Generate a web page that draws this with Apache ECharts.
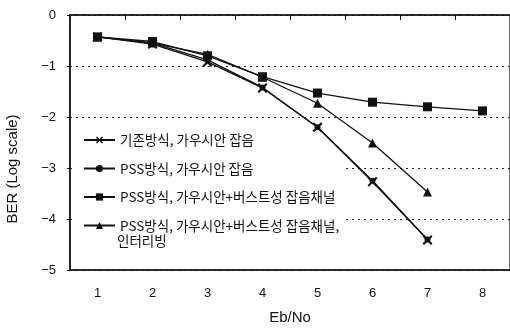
<!DOCTYPE html>
<html><head><meta charset="utf-8">
<script src="https://cdn.jsdelivr.net/npm/echarts@6/dist/echarts.min.js"></script>
<style>html,body{margin:0;padding:0;background:#fff}#c{width:510px;height:330px}</style>
</head><body><div id="c"></div>
<script>
const categories = ['1','2','3','4','5','6','7','8'];
const seriesNames = ['기존방식, 가우시안 잡음','PSS방식, 가우시안 잡음','PSS방식, 가우시안+버스트성 잡음채널','PSS방식, 가우시안+버스트성 잡음채널,'];
const legendExtraLine = '인터리빙';
const conventional = [-0.43,-0.57,-0.92,-1.43,-2.2,-3.27,-4.41,null];
const pssGauss     = [-0.43,-0.55,-0.88,-1.42,-2.2,-3.25,-4.4,null];
const pssBurst     = [-0.43,-0.52,-0.8,-1.21,-1.53,-1.71,-1.8,-1.88];
const pssInterleave= [-0.43,-0.55,-0.77,-1.22,-1.73,-2.51,-3.47,null];
const font = '"Liberation Sans", Arial, sans-serif';
const kfont = '"Noto Sans CJK KR", "Liberation Sans", sans-serif';
const xPath = 'path://M1.5,0L5,3.5L8.5,0L10,1.5L6.5,5L10,8.5L8.5,10L5,6.5L1.5,10L0,8.5L3.5,5L0,1.5Z';
const symbols = [xPath,'circle','rect','triangle'];
const sizes = [10,6,9,9];
const datas = [conventional,pssGauss,pssBurst,pssInterleave];
const chart = echarts.init(document.getElementById('c'));
chart.setOption({
  animation:false,
  backgroundColor:'#fff',
  grid:{left:70,top:15,right:-2,bottom:60,show:true,borderColor:'#111',borderWidth:1.2,backgroundColor:'transparent'},
  legend:{
    orient:'vertical',left:76,top:125,z:1,
    padding:[8,4,22,7],itemGap:14.5,itemWidth:31,itemHeight:9,
    backgroundColor:'#fff',
    textStyle:{fontFamily:kfont,fontSize:13.5,lineHeight:14,color:'#111'},
    data:seriesNames
  },
  graphic:[
    {type:'text',left:117,top:234,z:100,style:{text:legendExtraLine,font:'13.5px '+kfont,fill:'#111'}},
    {type:'text',x:13,y:169,rotation:Math.PI/2,z:100,style:{text:'BER (Log scale)',font:'15px '+font,fill:'#111',align:'center',verticalAlign:'middle'}}
  ],
  xAxis:[
    {type:'category',data:categories,boundaryGap:true,position:'bottom',name:'Eb/No',nameLocation:'middle',nameGap:40,
     nameTextStyle:{fontFamily:font,fontSize:15,color:'#111'},
     axisLine:{onZero:false,lineStyle:{color:'#111',width:1.5}},axisTick:{show:false},
     axisLabel:{fontFamily:font,fontSize:13,color:'#111',margin:17}},
    {type:'category',data:categories,position:'top',boundaryGap:true,gridIndex:0,
     axisLine:{show:true,onZero:false,lineStyle:{color:'#111',width:1.5}},
     axisTick:{show:true,inside:true,interval:0,length:5,lineStyle:{color:'#111',width:1}},
     axisLabel:{show:false},splitLine:{show:false}}
  ],
  yAxis:{type:'value',min:-5,max:0,interval:1,
    axisLine:{show:true,onZero:false,lineStyle:{color:'#111',width:1.5}},
    axisTick:{show:true,length:3,lineStyle:{color:'#111'}},
    axisLabel:{fontFamily:font,fontSize:13,color:'#111',margin:14,formatter:v=>String(v).replace('-','\u2212')},
    splitLine:{show:true,lineStyle:{type:[2,4],color:'#222',width:1}}
  },
  series:datas.map((d,i)=>({
    name:seriesNames[i],type:'line',data:d,symbol:symbols[i],symbolSize:sizes[i],z:3,
    xAxisIndex: i===2 ? 1 : 0,
    lineStyle:{color:'#111',width:1.3},itemStyle:{color:'#111'},showAllSymbol:true,connectNulls:false
  }))
});
</script></body></html>
